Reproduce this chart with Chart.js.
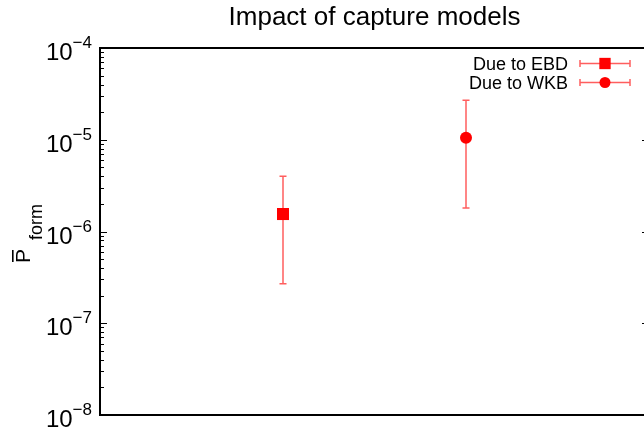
<!DOCTYPE html>
<html>
<head>
<meta charset="utf-8">
<script src="https://cdn.jsdelivr.net/npm/chart.js@4/dist/chart.umd.min.js"></script>
<style>
  html, body { margin: 0; padding: 0; background: #fff; overflow: hidden; }
  #wrap { width: 660px; height: 432px; }
</style>
</head>
<body>
<div id="wrap"><canvas id="c" width="660" height="432"></canvas></div>
<script>
// ---- data ----
const categories = ['Due to EBD', 'Due to WKB'];
const xPositions = [1, 2];
const values = [1.55e-6, 1.05e-5];
const errLow = [2.7e-7, 1.8e-6];
const errHigh = [4.0e-6, 2.7e-5];
const pointStyles = ['rect', 'circle'];
const tickExponents = [-8, -7, -6, -5, -4];
const titleText = 'Impact of capture models';

const FONT = '"Liberation Sans", Arial, Helvetica, sans-serif';
const RED = '#ff0000';
const ERR = 'rgba(255,40,40,0.75)';

const datasets = categories.map((name, i) => ({
  label: name,
  data: [{ x: xPositions[i], y: values[i], lo: errLow[i], hi: errHigh[i] }],
  backgroundColor: RED,
  borderColor: RED,
  borderWidth: 0,
  pointStyle: pointStyles[i],
  pointRadius: pointStyles[i] === 'rect' ? 8.5 : 6,
  pointHoverRadius: pointStyles[i] === 'rect' ? 8.5 : 6,
  showLine: false
}));

const errorBars = {
  id: 'errorBars',
  beforeDatasetsDraw(chart) {
    const ctx = chart.ctx, xs = chart.scales.x, ys = chart.scales.y;
    ctx.save();
    ctx.strokeStyle = ERR;
    ctx.lineWidth = 1.5;
    chart.data.datasets.forEach(ds => {
      ds.data.forEach(p => {
        const x = xs.getPixelForValue(p.x);
        const y1 = ys.getPixelForValue(p.lo);
        const y2 = ys.getPixelForValue(p.hi);
        ctx.beginPath();
        ctx.moveTo(x, y1); ctx.lineTo(x, y2);
        ctx.moveTo(x - 3.5, y1); ctx.lineTo(x + 3.5, y1);
        ctx.moveTo(x - 3.5, y2); ctx.lineTo(x + 3.5, y2);
        ctx.stroke();
      });
    });
    ctx.restore();
  }
};

const decor = {
  id: 'decor',
  afterDraw(chart) {
    const ctx = chart.ctx, ys = chart.scales.y;
    const a = chart.chartArea;
    ctx.save();
    // ticks (inward) on left and right
    ctx.strokeStyle = '#000';
    ctx.lineWidth = 1;
    for (let e = tickExponents[0]; e < tickExponents[tickExponents.length - 1]; e++) {
      for (let m = 1; m <= 9; m++) {
        const v = m * Math.pow(10, e);
        const y = Math.round(ys.getPixelForValue(v)) + 0.5;
        const len = m === 1 ? 7 : 4;
        ctx.beginPath();
        ctx.moveTo(a.left, y); ctx.lineTo(a.left + len, y);
        ctx.moveTo(a.right, y); ctx.lineTo(a.right - len, y);
        ctx.stroke();
      }
    }
    // frame
    ctx.lineWidth = 2;
    ctx.strokeRect(a.left, a.top, a.right - a.left, a.bottom - a.top);

    // tick labels 10^n
    ctx.fillStyle = '#000';
    ctx.textBaseline = 'alphabetic';
    tickExponents.forEach(e => {
      const y = ys.getPixelForValue(Math.pow(10, e));
      const sup = '\u2212' + Math.abs(e);
      ctx.font = '24px ' + FONT;
      const w10 = ctx.measureText('10').width;
      ctx.font = '17px ' + FONT;
      const ws = ctx.measureText(sup).width;
      const x0 = a.left - 8 - ws - w10;
      ctx.textAlign = 'left';
      ctx.font = '24px ' + FONT;
      ctx.fillText('10', x0, y + 12);
      ctx.font = '17px ' + FONT;
      ctx.fillText(sup, x0 + w10, y);
    });

    // y axis title: P-bar subscript form
    ctx.save();
    ctx.translate(30, 263);
    ctx.rotate(-Math.PI / 2);
    ctx.textAlign = 'left';
    ctx.font = '21px ' + FONT;
    ctx.fillText('P', 0, 0);
    const wp = ctx.measureText('P').width;
    ctx.fillRect(1, -18, wp - 2, 1.6);
    ctx.font = '18px ' + FONT;
    ctx.fillText('form', 23, 12);
    ctx.restore();

    // title
    ctx.font = '26px ' + FONT;
    ctx.textAlign = 'center';
    ctx.fillText(titleText, (a.left + a.right) / 2, 25);

    // legend
    const rows = [63.5, 82.5];
    categories.forEach((name, i) => {
      const yy = rows[i];
      ctx.font = '18px ' + FONT;
      ctx.textAlign = 'right';
      ctx.fillStyle = '#000';
      ctx.fillText(name, 568, yy + 6.5);
      ctx.strokeStyle = ERR;
      ctx.lineWidth = 1.5;
      ctx.beginPath();
      ctx.moveTo(580, yy); ctx.lineTo(630, yy);
      ctx.moveTo(580, yy - 3.5); ctx.lineTo(580, yy + 3.5);
      ctx.moveTo(630, yy - 3.5); ctx.lineTo(630, yy + 3.5);
      ctx.stroke();
      ctx.fillStyle = RED;
      ctx.strokeStyle = RED;
      Chart.helpers.drawPoint(ctx, {
        pointStyle: pointStyles[i],
        radius: pointStyles[i] === 'rect' ? 8 : 5.5,
        rotation: 0,
        borderWidth: 0
      }, 605, yy);
    });
    ctx.restore();
  }
};

new Chart(document.getElementById('c'), {
  type: 'scatter',
  data: { datasets },
  options: {
    responsive: false,
    devicePixelRatio: 1,
    animation: false,
    events: [],
    layout: { padding: { left: 100, right: 11, top: 48, bottom: 17 } },
    plugins: { legend: { display: false }, title: { display: false }, tooltip: { enabled: false } },
    scales: {
      x: { type: 'linear', min: 0, max: 3, display: false },
      y: { type: 'logarithmic', min: 1e-8, max: 1e-4, display: false }
    }
  },
  plugins: [errorBars, decor]
});
</script>
</body>
</html>
